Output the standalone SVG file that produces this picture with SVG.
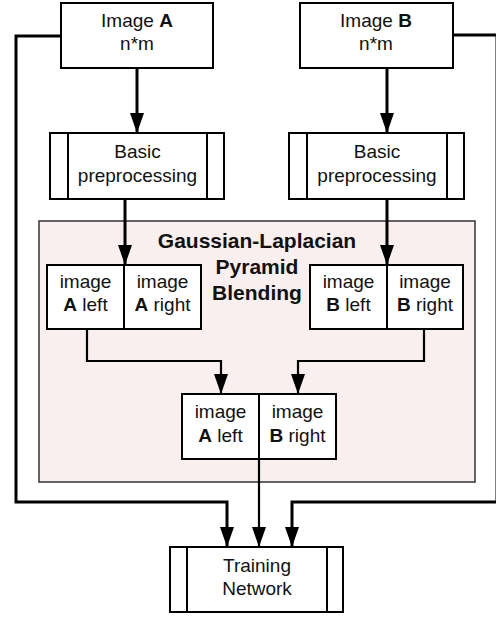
<svg xmlns="http://www.w3.org/2000/svg" width="496" height="618" viewBox="0 0 496 618">
<defs>
<marker id="ah" markerUnits="userSpaceOnUse" markerWidth="20" markerHeight="14" refX="20" refY="7" orient="auto">
<path d="M0,0 L20,7 L0,14 z" fill="#000"/>
</marker>
<style>
.box{fill:#fff;stroke:#000;stroke-width:2}
.ln{fill:none;stroke:#000;stroke-width:2}
.c{fill:none;stroke:#000;stroke-width:3}
.c2{fill:none;stroke:#000;stroke-width:2.2}
text{font-family:"Liberation Sans",Arial,sans-serif;font-size:19px;fill:#111;text-anchor:middle}
.t{font-weight:bold;font-size:21px}
</style>
</defs>
<rect width="496" height="618" fill="#fff"/>
<g id="container">
<rect x="39" y="221" width="436" height="261" fill="#f9efef" stroke="#333" stroke-width="1.5"/>
<text class="t" x="257" y="248">Gaussian-Laplacian</text>
<text class="t" x="257" y="274">Pyramid</text>
<text class="t" x="257" y="300">Blending</text>
</g>
<g id="connectors">
<path class="c" d="M137,68 V133" marker-end="url(#ah)"/>
<path class="c" d="M387,68 V133" marker-end="url(#ah)"/>
<path class="c" d="M125,199 V265" marker-end="url(#ah)"/>
<path class="c" d="M387,199 V265" marker-end="url(#ah)"/>
<path class="c2" d="M87,329 V361 H221 V394" marker-end="url(#ah)"/>
<path class="c2" d="M424,329 V361 H298 V394" marker-end="url(#ah)"/>
<path class="c2" d="M259,459 V547" marker-end="url(#ah)"/>
<path class="c" d="M61,36 H16 V502 H227 V547" marker-end="url(#ah)"/>
<path class="c" d="M453,35 H497 V502 H292 V547" marker-end="url(#ah)"/>
</g>
<g id="imageA">
<rect class="box" x="61" y="3" width="152" height="65"/>
<text x="137" y="27">Image <tspan font-weight="bold">A</tspan></text>
<text x="137" y="50">n*m</text>
</g>
<g id="imageB">
<rect class="box" x="300" y="3" width="153" height="65"/>
<text x="376" y="27">Image <tspan font-weight="bold">B</tspan></text>
<text x="376" y="50">n*m</text>
</g>
<g id="preA">
<rect class="box" x="50" y="133" width="174" height="66"/>
<path class="ln" d="M68,133 V199 M207,133 V199"/>
<text x="137.5" y="158">Basic</text>
<text x="137.5" y="182">preprocessing</text>
</g>
<g id="preB">
<rect class="box" x="289" y="133" width="175" height="66"/>
<path class="ln" d="M307,133 V199 M447,133 V199"/>
<text x="377" y="158">Basic</text>
<text x="377" y="182">preprocessing</text>
</g>
<g id="splitA">
<rect class="box" x="47" y="265" width="154" height="64"/>
<path class="ln" d="M124,265 V329"/>
<text x="85.5" y="288">image</text>
<text x="85.5" y="311"><tspan font-weight="bold">A</tspan> left</text>
<text x="162.5" y="288">image</text>
<text x="162.5" y="311"><tspan font-weight="bold">A</tspan> right</text>
</g>
<g id="splitB">
<rect class="box" x="310" y="265" width="153" height="64"/>
<path class="ln" d="M387,265 V329"/>
<text x="348.5" y="288">image</text>
<text x="348.5" y="311"><tspan font-weight="bold">B</tspan> left</text>
<text x="425" y="288">image</text>
<text x="425" y="311"><tspan font-weight="bold">B</tspan> right</text>
</g>
<g id="combined">
<rect class="box" x="182" y="394" width="154" height="65"/>
<path class="ln" d="M259,394 V459"/>
<text x="220.5" y="418">image</text>
<text x="220.5" y="442"><tspan font-weight="bold">A</tspan> left</text>
<text x="297.5" y="418">image</text>
<text x="297.5" y="442"><tspan font-weight="bold">B</tspan> right</text>
</g>
<g id="training">
<rect class="box" x="170" y="547" width="173" height="65"/>
<path class="ln" d="M187,547 V612 M327,547 V612"/>
<text x="257" y="572">Training</text>
<text x="257" y="595">Network</text>
</g>
</svg>
